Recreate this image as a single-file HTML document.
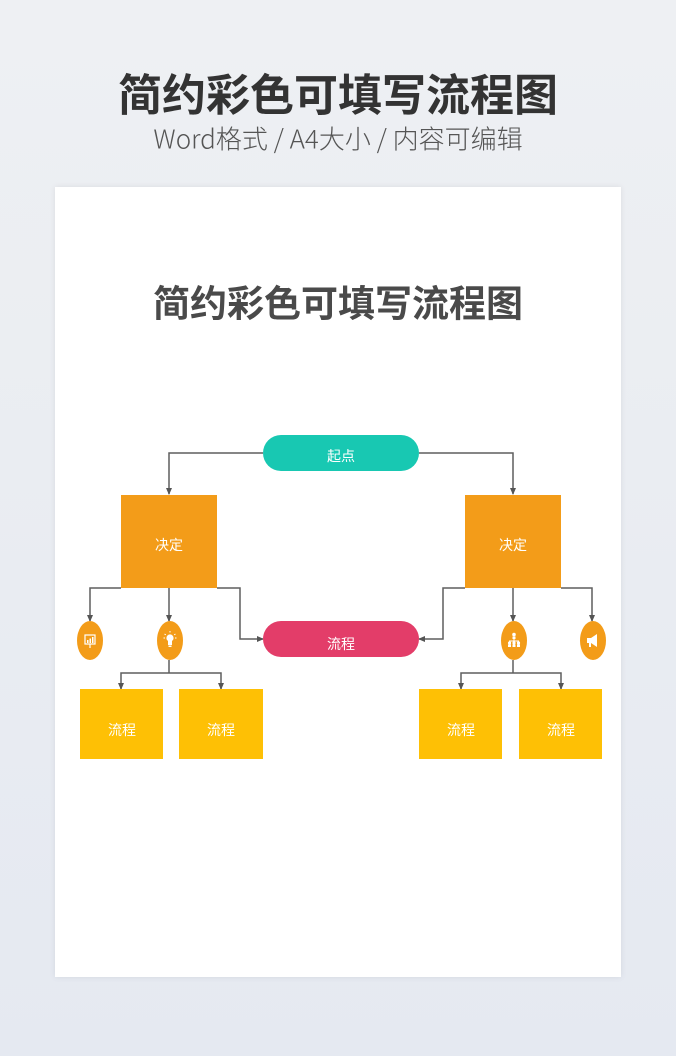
<!DOCTYPE html>
<html>
<head>
<meta charset="utf-8">
<style>
  html,body{margin:0;padding:0;}
  body{width:676px;height:1056px;overflow:hidden;background:linear-gradient(#eef0f3,#e5e9f1);font-family:"Liberation Sans","Noto Sans CJK SC",sans-serif;}
  .card{position:absolute;left:55px;top:187px;width:566px;height:790px;background:#fff;box-shadow:0 0 6px rgba(0,0,0,0.08);}
  svg{position:absolute;left:0;top:0;}
</style>
</head>
<body>
<div class="card"></div>
<svg width="676" height="1056" viewBox="0 0 676 1056" xmlns="http://www.w3.org/2000/svg" font-family="Liberation Sans, Noto Sans CJK SC, sans-serif">
  <defs>
    <marker id="ar" markerWidth="8" markerHeight="8" refX="6" refY="4" orient="auto" markerUnits="userSpaceOnUse">
      <path d="M0,1 L7,4 L0,7 Z" fill="#555"/>
    </marker>
  </defs>

  <!-- Header text -->
  <text x="338" y="96" text-anchor="middle" dominant-baseline="central" font-size="44" font-weight="700" fill="#333">简约彩色可填写流程图</text>
  <text x="338" y="138" text-anchor="middle" dominant-baseline="central" font-size="26" font-weight="300" fill="#555" font-family="Noto Sans CJK SC, sans-serif">Word格式 / A4大小 / 内容可编辑</text>

  <!-- Card title -->
  <text x="338" y="304" text-anchor="middle" dominant-baseline="central" font-size="37" font-weight="700" fill="#4a4a4a">简约彩色可填写流程图</text>

  <!-- Connectors -->
  <g fill="none" stroke="#5f5f5f" stroke-width="1.5">
    <polyline points="263,453 169,453 169,494" marker-end="url(#ar)"/>
    <polyline points="419,453 513,453 513,494" marker-end="url(#ar)"/>

    <polyline points="121,588 90,588 90,621" marker-end="url(#ar)"/>
    <polyline points="169,588 169,621" marker-end="url(#ar)"/>
    <polyline points="217,588 240,588 240,639 263,639" marker-end="url(#ar)"/>

    <polyline points="465,588 443,588 443,639 419,639" marker-end="url(#ar)"/>
    <polyline points="513,588 513,621" marker-end="url(#ar)"/>
    <polyline points="561,588 592,588 592,621" marker-end="url(#ar)"/>

    <polyline points="169,660 169,673"/>
    <polyline points="169,673 121,673 121,689" marker-end="url(#ar)"/>
    <polyline points="169,673 221,673 221,689" marker-end="url(#ar)"/>

    <polyline points="513,660 513,673"/>
    <polyline points="513,673 461,673 461,689" marker-end="url(#ar)"/>
    <polyline points="513,673 561,673 561,689" marker-end="url(#ar)"/>
  </g>

  <!-- Pills -->
  <rect x="263" y="435" width="156" height="36" rx="18" fill="#18c8b2"/>
  <text x="341" y="456" text-anchor="middle" dominant-baseline="central" font-size="14" fill="#fff">起点</text>
  <rect x="263" y="621" width="156" height="36" rx="18" fill="#e33d69"/>
  <text x="341" y="644" text-anchor="middle" dominant-baseline="central" font-size="14" fill="#fff">流程</text>

  <!-- Decision boxes -->
  <rect x="121" y="495" width="96" height="93" fill="#f39c19"/>
  <text x="169" y="545" text-anchor="middle" dominant-baseline="central" font-size="14" fill="#fff">决定</text>
  <rect x="465" y="495" width="96" height="93" fill="#f39c19"/>
  <text x="513" y="545" text-anchor="middle" dominant-baseline="central" font-size="14" fill="#fff">决定</text>

  <!-- Ellipses -->
  <ellipse cx="90" cy="640.5" rx="13" ry="19.5" fill="#f39c19"/>
  <ellipse cx="170" cy="640.5" rx="13" ry="19.5" fill="#f39c19"/>
  <ellipse cx="514" cy="640.5" rx="13" ry="19.5" fill="#f39c19"/>
  <ellipse cx="593" cy="640.5" rx="13" ry="19.5" fill="#f39c19"/>

  <!-- Icons -->
  <g fill="none" stroke="#fff" stroke-width="1.2">
    <rect x="85" y="635" width="10" height="9"/>
    <line x1="90" y1="644" x2="90" y2="648"/>
  </g>
  <g fill="#fff">
    <rect x="87" y="640" width="1.5" height="3"/>
    <rect x="89.5" y="638.5" width="1.5" height="4.5"/>
    <rect x="92" y="637" width="1.5" height="6"/>
  </g>
  <g fill="#fff">
    <circle cx="170" cy="638" r="3.6"/>
    <rect x="168" y="640" width="4" height="5"/>
    <rect x="168.5" y="645.5" width="3" height="1.5"/>
  </g>
  <g stroke="#fff" stroke-width="1">
    <line x1="170" y1="631" x2="170" y2="632.5"/>
    <line x1="164.5" y1="634" x2="165.8" y2="634.8"/>
    <line x1="175.5" y1="634" x2="174.2" y2="634.8"/>
    <line x1="163.5" y1="638" x2="165" y2="638"/>
    <line x1="176.5" y1="638" x2="175" y2="638"/>
  </g>
  <g fill="#fff">
    <circle cx="514" cy="634.5" r="1.8"/>
    <rect x="512.5" y="636.5" width="3" height="2.5"/>
    <rect x="513.5" y="639" width="1" height="2"/>
    <rect x="509" y="640.5" width="10" height="1"/>
    <circle cx="509.5" cy="643" r="1.6"/>
    <circle cx="514" cy="643" r="1.6"/>
    <circle cx="518.5" cy="643" r="1.6"/>
    <rect x="508" y="644.5" width="3" height="2.5"/>
    <rect x="512.5" y="644.5" width="3" height="2.5"/>
    <rect x="517" y="644.5" width="3" height="2.5"/>
  </g>
  <g fill="#fff">
    <path d="M587,638 L591,638 L597,634 L597,647 L591,643 L587,643 Z"/>
    <rect x="589" y="643" width="2" height="4"/>
  </g>

  <!-- Bottom process boxes -->
  <rect x="80" y="689" width="83" height="70" fill="#fec005"/>
  <text x="122" y="730" text-anchor="middle" dominant-baseline="central" font-size="14" fill="#fff">流程</text>
  <rect x="179" y="689" width="84" height="70" fill="#fec005"/>
  <text x="221" y="730" text-anchor="middle" dominant-baseline="central" font-size="14" fill="#fff">流程</text>
  <rect x="419" y="689" width="83" height="70" fill="#fec005"/>
  <text x="461" y="730" text-anchor="middle" dominant-baseline="central" font-size="14" fill="#fff">流程</text>
  <rect x="519" y="689" width="83" height="70" fill="#fec005"/>
  <text x="561" y="730" text-anchor="middle" dominant-baseline="central" font-size="14" fill="#fff">流程</text>
</svg>
</body>
</html>
